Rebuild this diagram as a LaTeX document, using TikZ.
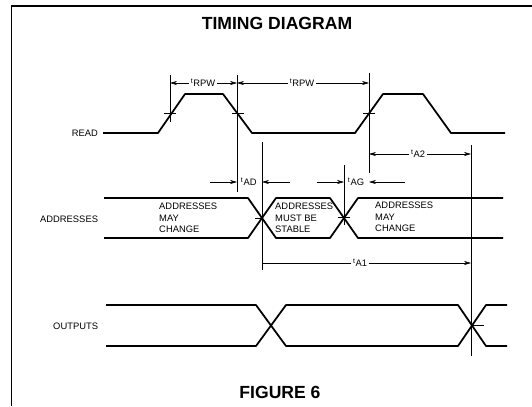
\documentclass[tikz,border=0pt]{standalone}
\usepackage{fontspec}
\setmainfont{Liberation Sans}
\usetikzlibrary{arrows.meta}

\begin{document}
\begin{tikzpicture}[x=0.03cm, y=-0.03cm,
  wave/.style={line width=1.5pt, line join=round},
  guide/.style={line width=0.5pt},
  dim/.style={line width=0.5pt, -{Stealth[length=6pt, width=3.5pt]}},
  lbl/.style={font=\fontsize{8}{9.8}\selectfont, inner sep=1.5pt},
  ttl/.style={font=\fontsize{15}{17}\selectfont\bfseries}]

  \useasboundingbox (0,0) rectangle (532,406);

  % frame, cut at the right and bottom
  \draw[line width=1pt] (532,6) -- (11.5,6) -- (11.5,406);

  % headings
  \node[ttl] (title) at (277,23) {TIMING DIAGRAM};
  \node[ttl] (fig) at (280,392) {FIGURE 6};

  % signal names
  \node[lbl, anchor=east] (read) at (100,133) {READ};
  \node[lbl, anchor=east] (addr) at (100,219) {ADDRESSES};
  \node[lbl, anchor=east] (outp) at (100,326) {OUTPUTS};

  % read strobe
  \draw[wave] (103,133) -- (158,133) -- (185,94) -- (223,94) -- (252,133)
    -- (355,133) -- (383,94) -- (423,94) -- (451,133) -- (505,133);

  % address bus
  \draw[wave] (104,198) -- (248,198) -- (276,238) -- (330,238) -- (358,198) -- (503,198);
  \draw[wave] (104,238) -- (248,238) -- (276,198) -- (330,198) -- (358,238) -- (503,238);
  \node[lbl, anchor=west, align=left, inner sep=0pt] (chg1) at (159,218) {ADDRESSES\\MAY\\CHANGE};
  \node[lbl, anchor=west, align=left, inner sep=0pt] (stb) at (275,218) {ADDRESSES\\MUST BE\\STABLE};
  \node[lbl, anchor=west, align=left, inner sep=0pt] (chg2) at (375,217) {ADDRESSES\\MAY\\CHANGE};

  % output bus
  \draw[wave] (106,305) -- (256,305) -- (286,346) -- (458,346) -- (486,305) -- (507,305);
  \draw[wave] (106,346) -- (256,346) -- (286,305) -- (458,305) -- (486,346) -- (507,346);

  % reference lines and ticks at the crossings
  \draw[guide] (170,75) -- (170,122);
  \draw[guide] (237,75) -- (237,192);
  \draw[guide] (369,73) -- (369,173);
  \draw[guide] (262,142) -- (262,270);
  \draw[guide] (344,165) -- (344,225);
  \draw[guide] (471,145) -- (471,356);
  \draw[guide] (164,113) -- (176,113);
  \draw[guide] (232,113) -- (244,113);
  \draw[guide] (363,113) -- (375,113);
  \draw[guide] (255,218) -- (262,218);
  \draw[guide] (338,217) -- (350,217);
  \draw[guide] (471,325) -- (484,325);

  % timing intervals
  \coordinate (rd1) at (170,83);
  \coordinate (rd2) at (237,83);
  \coordinate (rd3) at (369,83);
  \node[lbl] (trpw1) at (203,83) {\textsuperscript{t}RPW};
  \draw[dim] (trpw1) -- (rd1);
  \draw[dim] (trpw1) -- (rd2);
  \node[lbl] (trpw2) at (302,83) {\textsuperscript{t}RPW};
  \draw[dim] (trpw2) -- (rd2);
  \draw[dim] (trpw2) -- (rd3);

  \coordinate (a2l) at (369,154);
  \coordinate (a2r) at (471,154);
  \node[lbl] (ta2) at (418,154) {\textsuperscript{t}A2};
  \draw[dim] (ta2) -- (a2l);
  \draw[dim] (ta2) -- (a2r);

  \coordinate (ad0) at (210,182);
  \coordinate (ad1) at (237,182);
  \coordinate (ad2) at (262,182);
  \coordinate (ad3) at (290,182);
  \node[lbl, anchor=west] (tad) at (239,182) {\textsuperscript{t}AD};
  \draw[dim] (ad0) -- (ad1);
  \draw[dim] (ad3) -- (ad2);

  \coordinate (ag0) at (317,182);
  \coordinate (ag1) at (344,182);
  \coordinate (ag2) at (369,182);
  \coordinate (ag3) at (405,182);
  \node[lbl, anchor=west] (tag) at (346,182) {\textsuperscript{t}AG};
  \draw[dim] (ag0) -- (ag1);
  \draw[dim] (ag3) -- (ag2);

  \coordinate (a1l) at (262,263);
  \coordinate (a1r) at (471,263);
  \node[lbl] (ta1) at (360,263) {\textsuperscript{t}A1};
  \draw[guide] (ta1) -- (a1l);
  \draw[dim] (ta1) -- (a1r);

\end{tikzpicture}
\end{document}
